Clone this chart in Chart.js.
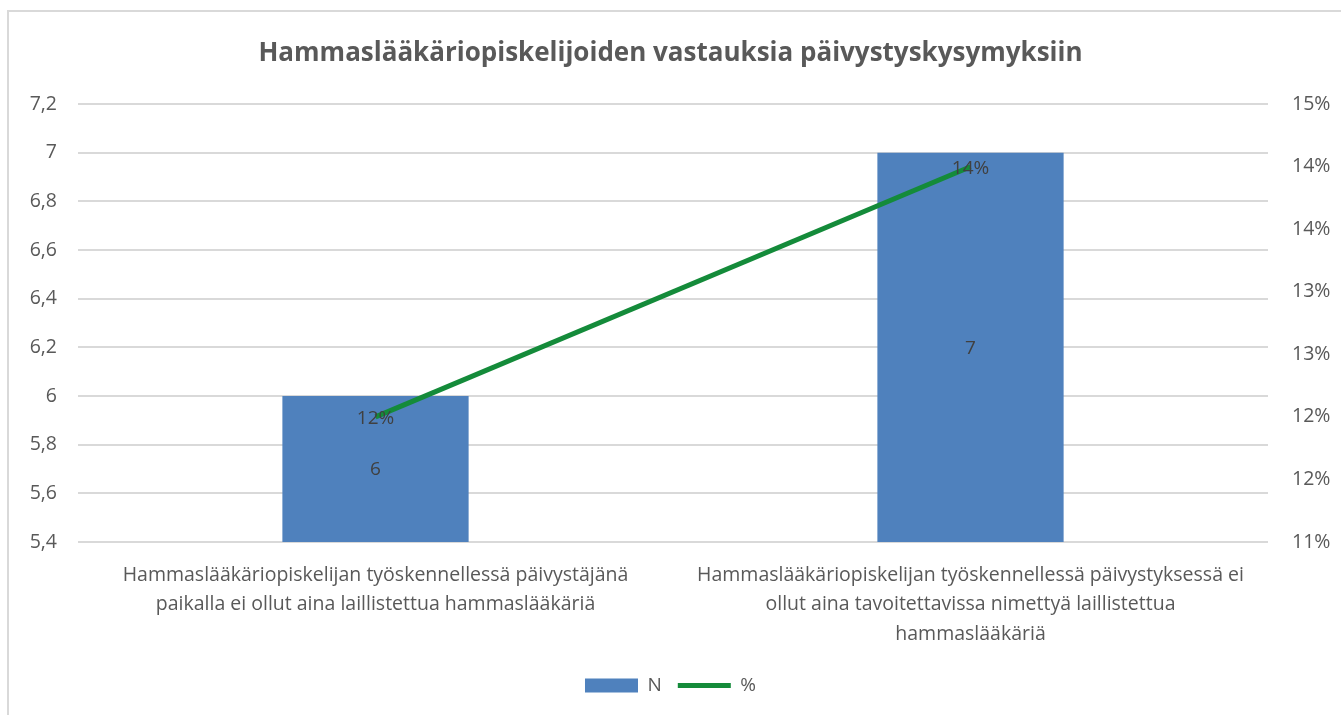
<!DOCTYPE html>
<html>
<head>
<meta charset="utf-8">
<script src="https://cdn.jsdelivr.net/npm/chart.js@4"></script>
<style>
  html, body { margin: 0; padding: 0; background: #fff; overflow: hidden; }
  #wrap { position: relative; width: 1341px; height: 715px; }
  #frame { position: absolute; left: 7px; top: 10px; width: 1400px; height: 800px; border: 2px solid #d9d9d9; box-sizing: border-box; }
  canvas { position: absolute; left: 0; top: 0; }
</style>
</head>
<body>
<div id="wrap">
  <div id="frame"></div>
  <canvas id="chart" width="1341" height="715"></canvas>
</div>
<script>
// Chart data
const categories = [
    ['Hammaslääkäriopiskelijan työskennellessä päivystäjänä', 'paikalla ei ollut aina laillistettua hammaslääkäriä'],
    ['Hammaslääkäriopiskelijan työskennellessä päivystyksessä ei', 'ollut aina tavoitettavissa nimettyä laillistettua', 'hammaslääkäriä']
];
const countValues = [6, 7];
const percentValues = [0.12, 0.14];

const FONT = '"Open Sans", "Noto Sans", sans-serif';
const TEXT = '#595959';

// Draw value labels on bars and line points
const valueLabels = {
    id: 'valueLabels',
    afterDatasetsDraw(chart) {
        const ctx = chart.ctx;
        const bottom = chart.chartArea.bottom;
        ctx.save();
        ctx.font = '19px ' + FONT;
        ctx.fillStyle = '#404040';
        ctx.textAlign = 'center';
        ctx.textBaseline = 'middle';
        // dataset 1 = bars, dataset 0 = line
        chart.getDatasetMeta(1).data.forEach((bar, i) => {
            ctx.fillText(String(countValues[i]), bar.x, (bar.y + bottom) / 2 + 1);
        });
        chart.getDatasetMeta(0).data.forEach((pt, i) => {
            ctx.fillText(Math.round(percentValues[i] * 100) + '%', pt.x, pt.y + 2);
        });
        ctx.restore();
    }
};

new Chart(document.getElementById('chart'), {
    data: {
        labels: categories,
        datasets: [
            {
                type: 'line',
                label: '%',
                data: percentValues,
                yAxisID: 'y1',
                borderColor: '#148b3a',
                backgroundColor: '#148b3a',
                borderWidth: 5,
                pointRadius: 0,
                pointStyle: 'line',
                order: 0
            },
            {
                type: 'bar',
                label: 'N',
                data: countValues,
                yAxisID: 'y',
                backgroundColor: '#4f81bd',
                barPercentage: 0.313,
                categoryPercentage: 1,
                pointStyle: 'rect',
                order: 1
            }
        ]
    },
    options: {
        responsive: false,
        animation: false,
        layout: { padding: { left: 0, right: 0, top: 0, bottom: 10 } },
        plugins: {
            title: {
                display: true,
                text: 'Hammaslääkäriopiskelijoiden vastauksia päivystyskysymyksiin',
                color: TEXT,
                font: { family: FONT, size: 26, weight: 'bold' },
                padding: { top: 38, bottom: 35 }
            },
            legend: {
                position: 'bottom',
                reverse: true,
                labels: {
                    color: TEXT,
                    font: { family: FONT, size: 19 },
                    usePointStyle: true,
                    pointStyleWidth: 53,
                    boxWidth: 53,
                    boxHeight: 14,
                    padding: 16
                }
            },
            tooltip: { enabled: false }
        },
        scales: {
            x: {
                grid: { display: false },
                border: { display: false },
                ticks: {
                    color: TEXT,
                    font: { family: FONT, size: 19.5, lineHeight: 1.5 },
                    maxRotation: 0,
                    padding: 11
                },
                afterFit(scale) { scale.height = 118; }
            },
            y: {
                position: 'left',
                min: 5.4,
                max: 7.2,
                grid: { color: '#d9d9d9', lineWidth: 2, drawTicks: false },
                border: { display: false },
                ticks: {
                    stepSize: 0.2,
                    color: TEXT,
                    padding: 21,
                    font: { family: FONT, size: 19.5 },
                    callback: v => String(Math.round(v * 10) / 10).replace('.', ',')
                },
                afterFit(scale) { scale.width = 78; }
            },
            y1: {
                position: 'right',
                min: 0.11,
                max: 0.145,
                grid: { display: false, drawTicks: false },
                border: { display: false },
                ticks: {
                    stepSize: 0.005,
                    color: TEXT,
                    padding: 24,
                    font: { family: FONT, size: 19.5 },
                    callback: v => Math.round(v * 100 + 1e-9) + '%'
                },
                afterFit(scale) { scale.width = 73; }
            }
        }
    },
    plugins: [valueLabels]
});
</script>
</body>
</html>
